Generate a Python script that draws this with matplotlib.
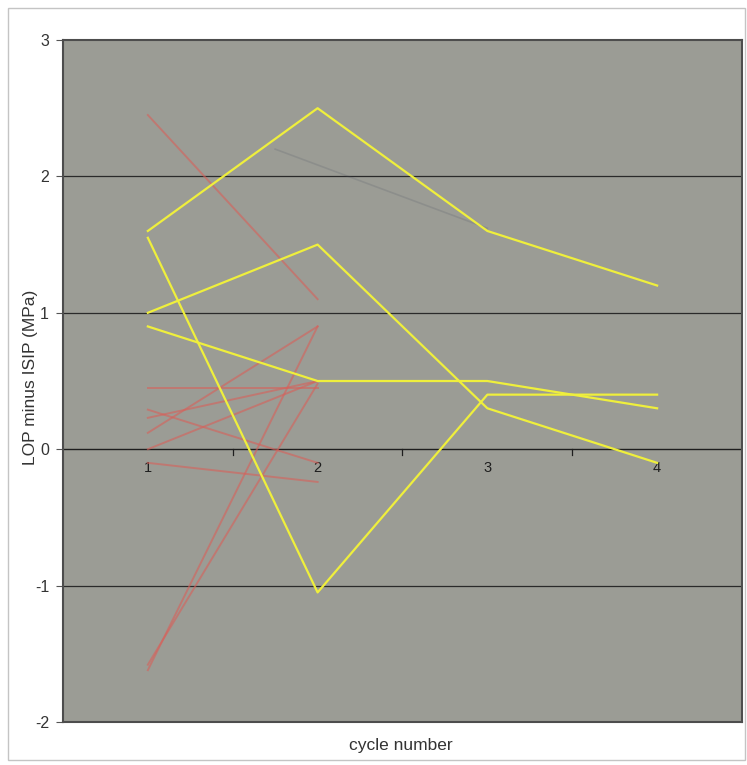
import matplotlib.pyplot as plt
import matplotlib.patches as patches

plt.rcParams['font.family'] = ['Liberation Sans', 'DejaVu Sans']

# dados
cycles = [1, 2, 3, 4]
tick_labels = ["1", "2", "3", "4"]

# linhas amarelas (4 ciclos)
yellow_a = [1.6, 2.5, 1.6, 1.2]
yellow_b = [1.0, 1.5, 0.3, -0.1]
yellow_c = [0.9, 0.5, 0.5, 0.3]
yellow_d = [1.55, -1.05, 0.4, 0.4]

# linhas vermelhas (ciclo 1 -> ciclo 2)
red_c1 = [2.45, 0.45, 0.29, 0.23, 0.12, 0.0, -0.1, -1.62, -1.58]
red_c2 = [1.1, 0.45, -0.1, 0.5, 0.9, 0.5, -0.24, 0.9, 0.48]

# linha escura quase apagada
ghost_x = [1.75, 3.0]
ghost_y = [2.2, 1.62]

fig = plt.figure(figsize=(7.47, 7.65), dpi=100)
fig.patch.set_facecolor('white')
# moldura externa
fig.patches.append(patches.Rectangle((0.011, 0.007), 0.986, 0.982, transform=fig.transFigure,
                                     fill=False, edgecolor='#c4c4c4', linewidth=1))

ax = fig.add_axes([0.0843, 0.0562, 0.909, 0.8915])
ax.set_facecolor('#9b9c95')
ax.set_xlim(0.5, 4.5)
ax.set_ylim(-2, 3)

# grade
for g in [2, 1, -1]:
    ax.axhline(g, color='#2a2a2a', linewidth=0.9, zorder=1)
ax.axhline(0, color='#1e1e1e', linewidth=1.0, zorder=1)

# marcas do eixo x no zero (entre categorias)
for b in [1.5, 2.5, 3.5]:
    ax.plot([b, b], [0, -0.04], color='#1e1e1e', linewidth=0.9, zorder=1)
for c, lab in zip(cycles, tick_labels):
    ax.text(c, -0.09, lab, ha='center', va='top', fontsize=10.5, color='#1e1e1e')

ax.plot(ghost_x, ghost_y, color='#4a4f60', linewidth=1.2, alpha=0.18, zorder=2)

for a, b in zip(red_c1, red_c2):
    ax.plot([1, 2], [a, b], color='#d8605a', linewidth=1.4, alpha=0.6, zorder=3)

for s in [yellow_a, yellow_b, yellow_c, yellow_d]:
    ax.plot(cycles, s, color='#efef3c', linewidth=1.6, zorder=4)

ax.set_xticks([])
ax.set_yticks([-2, -1, 0, 1, 2, 3])
ax.set_yticklabels(["-2", "-1", "0", "1", "2", "3"])
ax.tick_params(axis='y', direction='out', length=5, color='#555555', labelsize=11.5,
               labelcolor='#333333', pad=5)
for sp in ax.spines.values():
    sp.set_color('#4d4d4d')
    sp.set_linewidth(1.5)

ax.set_ylabel("LOP minus ISIP (MPa)", fontsize=12.5, color='#333333')
ax.yaxis.set_label_coords(-0.037, 0.505)
fig.text(0.537, 0.025, "cycle number", ha='center', va='center', fontsize=12.5, color='#333333')

plt.savefig("out.png", dpi=100)
